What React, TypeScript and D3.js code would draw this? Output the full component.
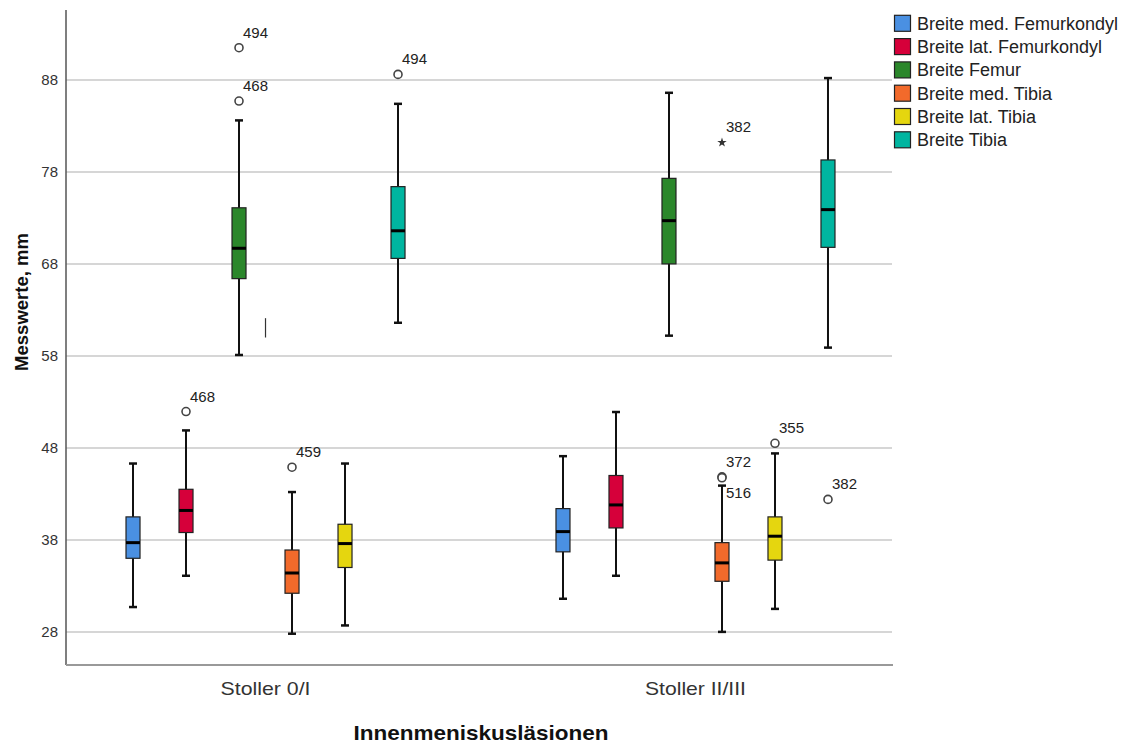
import React, { useEffect, useRef } from 'react';
import * as d3 from 'd3';

// ==== data

const categories = ['Stoller 0/I', 'Stoller II/III'];

const seriesNames = [
    'Breite med. Femurkondyl',
    'Breite lat. Femurkondyl',
    'Breite Femur',
    'Breite med. Tibia',
    'Breite lat. Tibia',
    'Breite Tibia'
];

const seriesColors = ['#4a90e2', '#d6003a', '#2b872b', '#f26a2b', '#e5d60f', '#00b5a0'];

// [whisker low, q1, median, q3, whisker high] per category
const medFemurkondyl = [[30.7, 36.0, 37.7, 40.5, 46.3], [31.6, 36.7, 38.9, 41.4, 47.1]];
const latFemurkondyl = [[34.1, 38.8, 41.2, 43.5, 49.9], [34.1, 39.3, 41.8, 45.0, 51.9]];
const femur = [[58.1, 66.4, 69.7, 74.1, 83.6], [60.2, 68.0, 72.7, 77.3, 86.6]];
const medTibia = [[27.8, 32.2, 34.4, 36.9, 43.2], [28.0, 33.5, 35.5, 37.7, 43.9]];
const latTibia = [[28.7, 35.0, 37.6, 39.7, 46.3], [30.5, 35.8, 38.4, 40.5, 47.4]];
const tibia = [[61.6, 68.6, 71.6, 76.4, 85.4], [58.9, 69.8, 73.9, 79.3, 88.2]];

const seriesStats = [medFemurkondyl, latFemurkondyl, femur, medTibia, latTibia, tibia];

// outliers: category index, series index, value, case label, kind, label placement
const outliers = [
    { cat: 0, ser: 1, value: 51.95, label: '468', kind: 'circle', below: false },
    { cat: 0, ser: 2, value: 91.5, label: '494', kind: 'circle', below: false },
    { cat: 0, ser: 2, value: 85.7, label: '468', kind: 'circle', below: false },
    { cat: 0, ser: 3, value: 45.9, label: '459', kind: 'circle', below: false },
    { cat: 0, ser: 5, value: 88.6, label: '494', kind: 'circle', below: false },
    { cat: 1, ser: 3, value: 44.85, label: '372', kind: 'circle', below: false },
    { cat: 1, ser: 3, value: 44.75, label: '516', kind: 'circle', below: true },
    { cat: 1, ser: 3, value: 81.2, label: '382', kind: 'star', below: false },
    { cat: 1, ser: 4, value: 48.5, label: '355', kind: 'circle', below: false },
    { cat: 1, ser: 5, value: 42.4, label: '382', kind: 'circle', below: false }
];

// stray short vertical mark in the first category
const strayMark = [{ cat: 0, low: 60.0, high: 62.1 }];

const yTicks = [28, 38, 48, 58, 68, 78, 88];

// ====

const FONT = '"Liberation Sans", Arial, sans-serif';

function App() {
    const node = useRef<SVGSVGElement | null>(null);

    useEffect(() => {
        document.body.style.margin = '0';
        const svg = d3.select(node.current);
        svg.selectAll('*').remove();

        const left = 66, right = 892, top = 10, bottom = 665;

        const y = d3.scaleLinear().domain([24.4, 95.6]).range([bottom, top]);
        const x = d3.scalePoint<string>().domain(categories).range([left, right + 3]).padding(0.464);
        const inner = d3.scalePoint<string>().domain(seriesNames).range([-132.5, 132.5]);
        const boxW = 14;
        const capW = 8;

        // grid
        svg.append('g')
            .selectAll('line')
            .data(yTicks)
            .enter()
            .append('line')
            .attr('x1', left)
            .attr('x2', right)
            .attr('y1', (d) => y(d))
            .attr('y2', (d) => y(d))
            .attr('stroke', '#c8c8c8')
            .attr('stroke-width', 1.5);

        // tick labels
        svg.append('g')
            .selectAll('text')
            .data(yTicks)
            .enter()
            .append('text')
            .attr('x', 58)
            .attr('y', (d) => y(d))
            .attr('dy', '0.35em')
            .attr('text-anchor', 'end')
            .attr('font-family', FONT)
            .attr('font-size', 15)
            .attr('fill', '#333')
            .text((d) => d);

        // axes lines
        svg.append('line')
            .attr('x1', left).attr('x2', left)
            .attr('y1', top).attr('y2', bottom)
            .attr('stroke', '#555').attr('stroke-width', 1.5);
        svg.append('line')
            .attr('x1', left).attr('x2', right + 1)
            .attr('y1', bottom).attr('y2', bottom)
            .attr('stroke', '#999').attr('stroke-width', 2);

        // category labels
        svg.append('g')
            .selectAll('text')
            .data(categories)
            .enter()
            .append('text')
            .attr('x', (d) => x(d) as number)
            .attr('y', 695)
            .attr('text-anchor', 'middle')
            .attr('font-family', FONT)
            .attr('font-size', 19)
            .attr('fill', '#333')
            .attr('textLength', (d) => (d === categories[0] ? 90 : 101))
            .attr('lengthAdjust', 'spacingAndGlyphs')
            .text((d) => d);

        // axis titles
        svg.append('text')
            .attr('x', 481)
            .attr('y', 740)
            .attr('text-anchor', 'middle')
            .attr('font-family', FONT)
            .attr('font-weight', 'bold')
            .attr('font-size', 21)
            .attr('fill', '#111')
            .attr('textLength', 255)
            .attr('lengthAdjust', 'spacingAndGlyphs')
            .text('Innenmeniskusläsionen');

        svg.append('text')
            .attr('transform', 'translate(28,302) rotate(-90)')
            .attr('text-anchor', 'middle')
            .attr('font-family', FONT)
            .attr('font-weight', 'bold')
            .attr('font-size', 18.5)
            .attr('fill', '#111')
            .text('Messwerte, mm');

        // boxes
        const boxData: { cx: number; s: number[]; color: string }[] = [];
        seriesStats.forEach((stats, si) => {
            stats.forEach((s, ci) => {
                boxData.push({
                    cx: (x(categories[ci]) as number) + (inner(seriesNames[si]) as number),
                    s,
                    color: seriesColors[si]
                });
            });
        });

        const box = svg.append('g')
            .selectAll('.box')
            .data(boxData)
            .enter()
            .append('g')
            .attr('class', 'box');

        box.append('line')
            .attr('x1', (d) => d.cx).attr('x2', (d) => d.cx)
            .attr('y1', (d) => y(d.s[0])).attr('y2', (d) => y(d.s[4]))
            .attr('stroke', '#111').attr('stroke-width', 2);

        box.selectAll('.cap')
            .data((d) => [d, d].map((e, i) => ({ cx: e.cx, v: i === 0 ? e.s[0] : e.s[4] })))
            .enter()
            .append('line')
            .attr('x1', (d) => d.cx - capW / 2).attr('x2', (d) => d.cx + capW / 2)
            .attr('y1', (d) => y(d.v)).attr('y2', (d) => y(d.v))
            .attr('stroke', '#111').attr('stroke-width', 2.5);

        box.append('rect')
            .attr('x', (d) => d.cx - boxW / 2)
            .attr('width', boxW)
            .attr('y', (d) => y(d.s[3]))
            .attr('height', (d) => y(d.s[1]) - y(d.s[3]))
            .attr('fill', (d) => d.color)
            .attr('stroke', '#222')
            .attr('stroke-width', 1.2);

        box.append('line')
            .attr('x1', (d) => d.cx - boxW / 2).attr('x2', (d) => d.cx + boxW / 2)
            .attr('y1', (d) => y(d.s[2])).attr('y2', (d) => y(d.s[2]))
            .attr('stroke', '#000').attr('stroke-width', 3);

        // stray mark
        svg.append('g')
            .selectAll('line')
            .data(strayMark)
            .enter()
            .append('line')
            .attr('x1', (d) => x(categories[d.cat]) as number)
            .attr('x2', (d) => x(categories[d.cat]) as number)
            .attr('y1', (d) => y(d.low)).attr('y2', (d) => y(d.high))
            .attr('stroke', '#333').attr('stroke-width', 1.2);

        // outliers
        const oData = outliers.map((o) => ({
            ...o,
            cx: (x(categories[o.cat]) as number) + (inner(seriesNames[o.ser]) as number),
            cy: y(o.value)
        }));

        const og = svg.append('g');
        og.selectAll('circle')
            .data(oData.filter((d) => d.kind === 'circle'))
            .enter()
            .append('circle')
            .attr('cx', (d) => d.cx)
            .attr('cy', (d) => d.cy)
            .attr('r', 4)
            .attr('fill', '#fff')
            .attr('stroke', '#444')
            .attr('stroke-width', 1.6);

        og.selectAll('path')
            .data(oData.filter((d) => d.kind === 'star'))
            .enter()
            .append('path')
            .attr('transform', (d) => 'translate(' + d.cx + ',' + d.cy + ')')
            .attr('d', d3.symbol().type(d3.symbolStar).size(28)() as string)
            .attr('fill', '#333');

        og.selectAll('text')
            .data(oData)
            .enter()
            .append('text')
            .attr('x', (d) => d.cx + 4)
            .attr('y', (d) => d.cy + (d.below ? 20 : -10))
            .attr('font-family', FONT)
            .attr('font-size', 15)
            .attr('fill', '#222')
            .text((d) => d.label);

        // legend
        const legend = svg.append('g')
            .selectAll('.leg')
            .data(seriesNames)
            .enter()
            .append('g')
            .attr('class', 'leg')
            .attr('transform', (d, i) => 'translate(894,' + (23.3 + i * 23.3) + ')');

        legend.append('rect')
            .attr('x', 0.5).attr('y', -8)
            .attr('width', 16).attr('height', 16)
            .attr('fill', (d, i) => seriesColors[i])
            .attr('stroke', '#222')
            .attr('stroke-width', 1.2);

        legend.append('text')
            .attr('x', 23)
            .attr('dy', '0.36em')
            .attr('font-family', FONT)
            .attr('font-size', 18)
            .attr('fill', '#222')
            .text((d) => d);
    }, []);

    return (
        <svg ref={node} width={1129} height={747} style={{ display: 'block' }}></svg>
    );
}

// ====

export default App;
